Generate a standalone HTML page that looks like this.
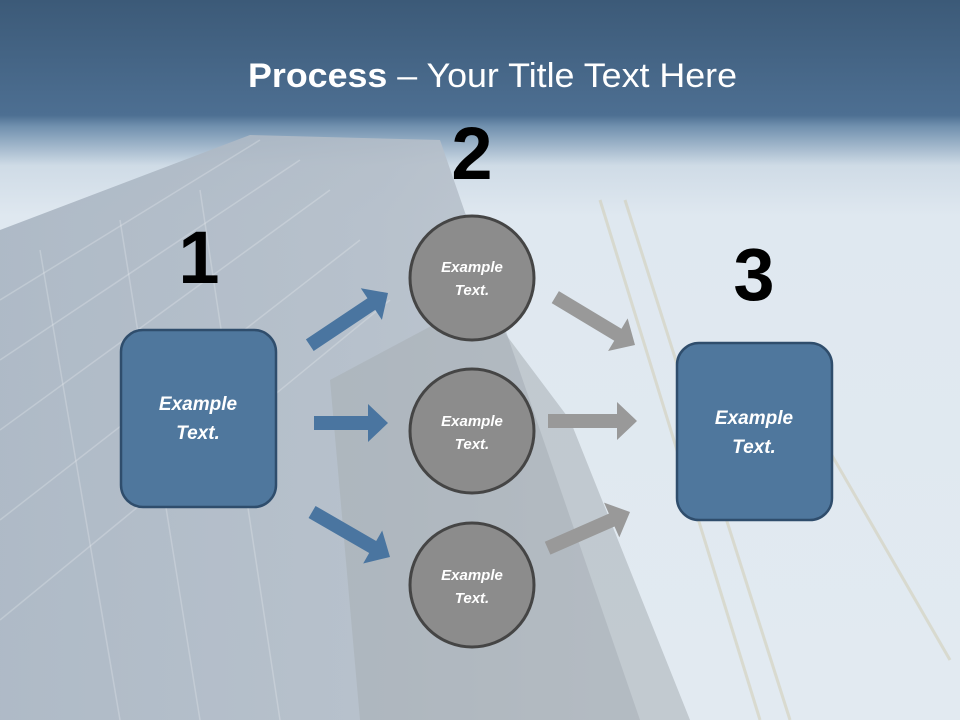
<!DOCTYPE html>
<html><head><meta charset="utf-8"><style>
html,body{margin:0;padding:0;width:960px;height:720px;overflow:hidden}
</style></head><body>
<svg width="960" height="720" viewBox="0 0 960 720" xmlns="http://www.w3.org/2000/svg">
<defs>
<linearGradient id="top" x1="0" y1="0" x2="0" y2="1">
<stop offset="0" stop-color="#3c5a78"/><stop offset="0.16" stop-color="#4d6f92"/><stop offset="0.175" stop-color="#7090ae"/><stop offset="0.23" stop-color="#cfdbe6"/><stop offset="0.3" stop-color="#dfe8f0"/><stop offset="1" stop-color="#e2eaf1"/>
</linearGradient>
<linearGradient id="bld" x1="0" y1="0" x2="1" y2="0">
<stop offset="0" stop-color="#a9b5c2"/><stop offset="0.6" stop-color="#b3bdc8"/><stop offset="1" stop-color="#bfc7d0"/>
</linearGradient>
</defs>
<rect width="960" height="720" fill="url(#top)"/>
<polygon points="0,230 250,135 440,140 640,720 0,720" fill="url(#bld)" opacity="0.9"/>
<polygon points="330,380 480,300 570,420 690,720 360,720" fill="#a8aeb5" opacity="0.55"/>
<g stroke="#ffffff" stroke-opacity="0.22" stroke-width="1.5">
<line x1="0" y1="300" x2="260" y2="140"/><line x1="0" y1="360" x2="300" y2="160"/><line x1="0" y1="430" x2="330" y2="190"/>
<line x1="0" y1="520" x2="360" y2="240"/><line x1="0" y1="620" x2="390" y2="300"/>
<line x1="40" y1="250" x2="120" y2="720"/><line x1="120" y1="220" x2="200" y2="720"/><line x1="200" y1="190" x2="280" y2="720"/>
</g>
<g stroke="#d0c9ae" stroke-opacity="0.5" stroke-width="3">
<line x1="600" y1="200" x2="760" y2="720"/><line x1="625" y1="200" x2="790" y2="720"/>
<line x1="800" y1="400" x2="950" y2="660"/>
</g>
<text x="248" y="87" textLength="489" lengthAdjust="spacingAndGlyphs" font-family="Liberation Sans, sans-serif" font-size="34" fill="#fff"><tspan font-weight="bold">Process</tspan> – Your Title Text Here</text>
<g font-family="Liberation Sans, sans-serif" font-weight="bold" font-size="74" fill="#000" text-anchor="middle">
<text x="472" y="179">2</text><text x="199" y="283">1</text><text x="754" y="300">3</text>
</g>
<g fill="#4a75a0">
<polygon points="-94,-7 -20,-7 -20,-19 0,0 -20,19 -20,7 -94,7" transform="translate(388,293) rotate(-33.7)"/>
<polygon points="-74,-7 -20,-7 -20,-19 0,0 -20,19 -20,7 -74,7" transform="translate(388,423)"/>
<polygon points="-90,-7 -20,-7 -20,-19 0,0 -20,19 -20,7 -90,7" transform="translate(390,557) rotate(30)"/>
</g>
<g fill="#999999">
<polygon points="-93,-7 -20,-7 -20,-19 0,0 -20,19 -20,7 -93,7" transform="translate(635,345) rotate(31)"/>
<polygon points="-89,-7 -20,-7 -20,-19 0,0 -20,19 -20,7 -89,7" transform="translate(637,421)"/>
<polygon points="-90,-7 -20,-7 -20,-19 0,0 -20,19 -20,7 -90,7" transform="translate(630,512) rotate(-23.7)"/>
</g>
<rect x="121" y="330" width="155" height="177" rx="22" fill="#4f779d" stroke="#2f4d6c" stroke-width="2.5"/>
<rect x="677" y="343" width="155" height="177" rx="22" fill="#4f779d" stroke="#2f4d6c" stroke-width="2.5"/>
<g fill="#8c8c8c" stroke="#454545" stroke-width="3">
<circle cx="472" cy="278" r="62"/><circle cx="472" cy="431" r="62"/><circle cx="472" cy="585" r="62"/>
</g>
<g font-family="Liberation Sans, sans-serif" font-weight="bold" font-style="italic" fill="#fff" text-anchor="middle">
<g font-size="19"><text x="198" y="410">Example</text><text x="198" y="439">Text.</text>
<text x="754" y="424">Example</text><text x="754" y="453">Text.</text></g>
<g font-size="15"><text x="472" y="272">Example</text><text x="472" y="295">Text.</text>
<text x="472" y="426">Example</text><text x="472" y="449">Text.</text>
<text x="472" y="580">Example</text><text x="472" y="603">Text.</text></g>
</g>
</svg>
</body></html>
